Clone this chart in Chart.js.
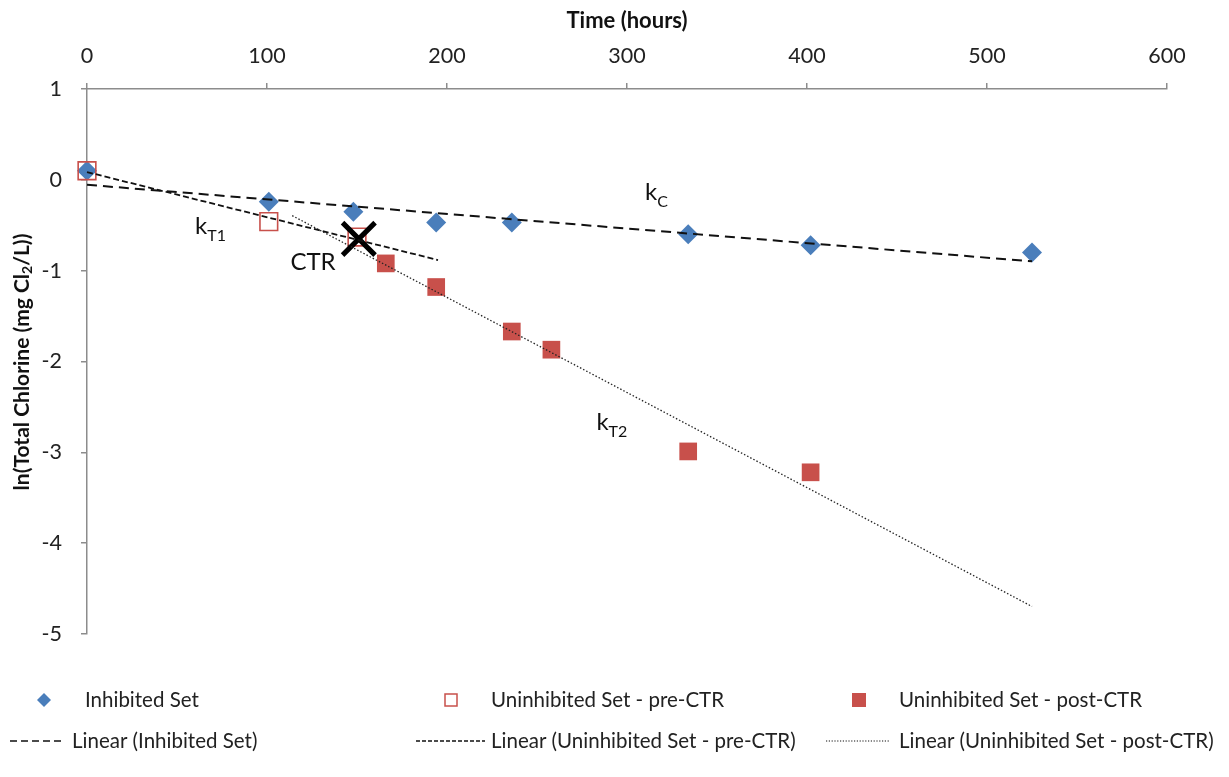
<!DOCTYPE html>
<html>
<head>
<meta charset="utf-8">
<script src="https://cdn.jsdelivr.net/npm/chart.js@4.4.1/dist/chart.umd.min.js"></script>
<style>
  html, body { margin: 0; padding: 0; background: #fff; }
  #wrap { width: 1229px; height: 777px; position: relative; }
</style>
</head>
<body>
<div id="wrap"><canvas id="chlorine"></canvas></div>
<script>
// time (hours) and ln(total chlorine) values
const inhibitedHours = [0, 101, 148, 194, 236, 334, 402, 525];
const inhibitedLn = [0.1, -0.24, -0.35, -0.47, -0.47, -0.6, -0.72, -0.8];

const preHours = [0, 101, 150];
const preLn = [0.1, -0.46, -0.63];

const postHours = [166, 194, 236, 258, 334, 402];
const postLn = [-0.92, -1.18, -1.67, -1.87, -2.99, -3.22];

const ctrPoint = [151, -0.65];

// where each trend line is drawn (hours), Excel style forecast
const inhibitedFitRange = [0, 525];
const preFitRange = [0, 195];
const postFitRange = [114, 525];

const xTicks = [0, 100, 200, 300, 400, 500, 600];
const yTicks = [1, 0, -1, -2, -3, -4, -5];

// text labels placed on the plot: [main, subscript, hours, ln]
const plotLabels = [
	['k', 'C', 310, -0.22],
	['k', 'T1', 60, -0.6],
	['CTR', '', 113, -0.99],
	['k', 'T2', 283, -2.75]
];

const BLUE = '#4a7ebb';
const RED = '#c8504b';
const AXIS = '#8c8c8c';
const FONT = 'Lato, "Open Sans", sans-serif';

function toPoints(xs, ys) {
	return xs.map((x, i) => ({x: x, y: ys[i]}));
}

// least squares fit, returns the two ends of the line
function fitLine(xs, ys, range) {
	const n = xs.length;
	const mx = xs.reduce((a, b) => a + b, 0) / n;
	const my = ys.reduce((a, b) => a + b, 0) / n;
	let sxy = 0, sxx = 0;
	for (let i = 0; i < n; i++) {
		sxy += (xs[i] - mx) * (ys[i] - my);
		sxx += (xs[i] - mx) * (xs[i] - mx);
	}
	const slope = sxy / sxx;
	const icpt = my - slope * mx;
	return range.map(x => ({x: x, y: icpt + slope * x}));
}

function textWithSub(ctx, x, y, main, sub, size, subSize, drop, weight) {
	ctx.font = weight + ' ' + size + 'px ' + FONT;
	ctx.fillText(main, x, y);
	const w = ctx.measureText(main).width;
	if (sub) {
		ctx.font = weight + ' ' + subSize + 'px ' + FONT;
		ctx.fillText(sub, x + w, y + drop);
	}
}

const overlay = {
	id: 'overlay',
	afterDatasetsDraw(chart) {
		const ctx = chart.ctx;
		const xs = chart.scales.x, ys = chart.scales.y;
		ctx.save();
		ctx.fillStyle = '#111';
		ctx.textBaseline = 'alphabetic';
		ctx.textAlign = 'left';
		plotLabels.forEach(l => {
			textWithSub(ctx, xs.getPixelForValue(l[2]), ys.getPixelForValue(l[3]), l[0], l[1], 24, 16, 7, 'normal');
		});
		ctx.restore();
	},
	afterDraw(chart) {
		const ctx = chart.ctx;
		ctx.save();

		// y axis title with subscript
		ctx.translate(22, 362);
		ctx.rotate(-Math.PI / 2);
		ctx.fillStyle = '#111';
		ctx.textBaseline = 'middle';
		const parts = [['ln(Total Chlorine (mg Cl', 21, 0], ['2', 14, 5], ['/L))', 21, 0]];
		let total = 0;
		parts.forEach(p => { ctx.font = 'bold ' + p[1] + 'px ' + FONT; total += ctx.measureText(p[0]).width; });
		let px = -total / 2;
		parts.forEach(p => {
			ctx.font = 'bold ' + p[1] + 'px ' + FONT;
			ctx.fillText(p[0], px, p[2]);
			px += ctx.measureText(p[0]).width;
		});
		ctx.restore();

		// legend, two rows like the Excel original
		ctx.save();
		ctx.font = '20.5px ' + FONT;
		ctx.fillStyle = '#222';
		ctx.textBaseline = 'middle';
		const r1 = 700, r2 = 741;

		ctx.fillText('Inhibited Set', 85, r1);
		ctx.fillText('Uninhibited Set - pre-CTR', 491, r1);
		ctx.fillText('Uninhibited Set - post-CTR', 899, r1);
		ctx.fillText('Linear (Inhibited Set)', 72, r2);
		ctx.fillText('Linear (Uninhibited Set - pre-CTR)', 491, r2);
		ctx.fillText('Linear (Uninhibited Set - post-CTR)', 899, r2);

		// diamond
		ctx.fillStyle = BLUE;
		ctx.beginPath();
		ctx.moveTo(44, r1 - 7); ctx.lineTo(51, r1); ctx.lineTo(44, r1 + 7); ctx.lineTo(37, r1);
		ctx.closePath(); ctx.fill();
		// hollow square
		ctx.strokeStyle = RED; ctx.lineWidth = 1.5;
		ctx.strokeRect(445, r1 - 6, 12, 12);
		// filled square
		ctx.fillStyle = RED;
		ctx.fillRect(852, r1 - 7, 14, 14);

		ctx.strokeStyle = '#111';
		ctx.lineWidth = 1.5;
		ctx.setLineDash([7, 4]);
		ctx.beginPath(); ctx.moveTo(10, r2); ctx.lineTo(63, r2); ctx.stroke();
		ctx.setLineDash([4, 2]);
		ctx.beginPath(); ctx.moveTo(416, r2); ctx.lineTo(485, r2); ctx.stroke();
		ctx.lineWidth = 1.2;
		ctx.setLineDash([1.2, 1.6]);
		ctx.beginPath(); ctx.moveTo(826, r2); ctx.lineTo(890, r2); ctx.stroke();
		ctx.restore();
	}
};

const ctx = document.getElementById('chlorine').getContext('2d');

new Chart(ctx, {
	type: 'scatter',
	data: {
		datasets: [
			{
				label: 'Linear (Inhibited Set)',
				data: fitLine(inhibitedHours, inhibitedLn, inhibitedFitRange),
				showLine: true, pointRadius: 0, borderColor: '#111', borderWidth: 2,
				borderDash: [10, 6], clip: false
			},
			{
				label: 'Linear (Uninhibited Set - pre-CTR)',
				data: fitLine(preHours, preLn, preFitRange),
				showLine: true, pointRadius: 0, borderColor: '#111', borderWidth: 1.8,
				borderDash: [6, 3], clip: false
			},
			{
				label: 'Linear (Uninhibited Set - post-CTR)',
				data: fitLine(postHours, postLn, postFitRange),
				showLine: true, pointRadius: 0, borderColor: '#222', borderWidth: 1.3,
				borderDash: [1.5, 2], clip: false
			},
			{
				label: 'CTR',
				data: [{x: ctrPoint[0], y: ctrPoint[1]}],
				pointStyle: 'crossRot', pointRadius: 23, borderColor: '#000', borderWidth: 5,
				clip: false
			},
			{
				label: 'Uninhibited Set - pre-CTR',
				data: toPoints(preHours, preLn),
				pointStyle: 'rect', pointRadius: 12.5, backgroundColor: 'rgba(255,255,255,0)',
				borderColor: RED, borderWidth: 1.6, clip: false
			},
			{
				label: 'Inhibited Set',
				data: toPoints(inhibitedHours, inhibitedLn),
				pointStyle: 'rectRot', pointRadius: 10, backgroundColor: BLUE,
				borderColor: BLUE, borderWidth: 0, clip: false
			},
			{
				label: 'Uninhibited Set - post-CTR',
				data: toPoints(postHours, postLn),
				pointStyle: 'rect', pointRadius: 12.5, backgroundColor: RED,
				borderColor: RED, borderWidth: 0, clip: false
			}
		]
	},
	options: {
		responsive: true,
		maintainAspectRatio: false,
		animation: false,
		layout: { padding: { left: 0, top: 0, right: 62, bottom: 143 } },
		plugins: {
			legend: { display: false },
			tooltip: { enabled: false }
		},
		scales: {
			x: {
				type: 'linear', position: 'top', min: 0, max: 600,
				afterFit: s => { s.height = 89; },
				afterBuildTicks: s => { s.ticks = xTicks.map(v => ({value: v})); },
				title: {
					display: true, text: 'Time (hours)', color: '#111',
					font: { family: FONT, size: 22, weight: 'bold' },
					padding: { top: 8, bottom: 0 }
				},
				ticks: { color: '#222', font: { family: FONT, size: 21.5 }, padding: 14 },
				grid: { drawOnChartArea: false, tickLength: 6, color: AXIS, lineWidth: 1.5 },
				border: { display: true, color: AXIS, width: 1.5 }
			},
			y: {
				type: 'linear', position: 'left', min: -5, max: 1,
				afterFit: s => { s.width = 87; },
				afterBuildTicks: s => { s.ticks = yTicks.map(v => ({value: v})); },
				ticks: { color: '#222', font: { family: FONT, size: 21.5 }, padding: 19 },
				grid: { drawOnChartArea: false, tickLength: 6, color: AXIS, lineWidth: 1.5 },
				border: { display: true, color: AXIS, width: 1.5 }
			}
		}
	},
	plugins: [overlay]
});
</script>
</body>
</html>
